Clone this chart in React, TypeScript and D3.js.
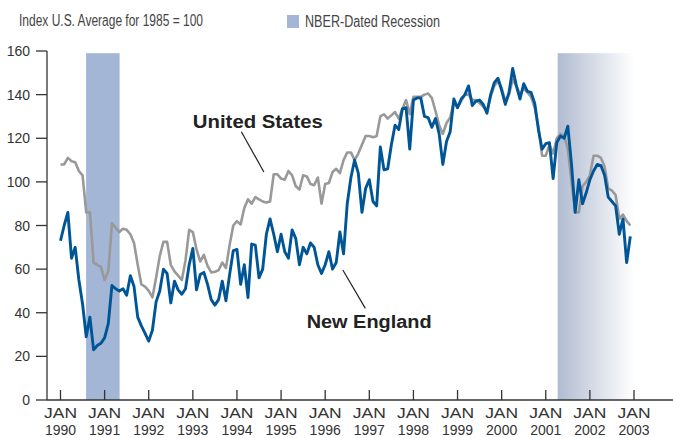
import React, { useEffect, useRef } from 'react'
import * as d3 from 'd3'

// monthly index values, Jan 1990 .. Dec 2002
const usValues = [
  108, 108, 111, 109.5, 109, 105, 103, 86, 86, 63, 62, 61,
  55, 59, 81, 79, 77, 78.5, 78, 76, 72, 62, 53, 52,
  50, 47, 56, 66, 72.5, 72.5, 62, 59, 57, 55, 64, 78,
  77, 69, 63.5, 66.5, 61.5, 58.5, 58.8, 59.5, 63, 60.5, 71, 80,
  82, 80.5, 88, 92, 90, 93, 92, 91, 90.5, 91, 103.5, 103.5,
  101.5, 101, 105, 103, 98, 96.5, 103, 102.5, 99, 98.5, 102, 90,
  99, 99.5, 104.5, 106, 104, 110, 113.5, 113.5, 110, 113, 117, 121,
  121, 120.5, 121, 130, 131, 129, 130.5, 132, 129, 133.5, 137.5, 131,
  139, 139, 139, 140, 140.5, 138.5, 132.5, 126, 122, 127, 129.5, 136.5,
  134, 137, 140, 140, 137.5, 137.5, 136, 134.5, 132.5, 139, 144, 146.5,
  143, 137, 140, 147, 144, 140, 143, 141, 139, 134, 125, 112,
  112, 117, 113, 120, 122, 121, 115, 100, 86, 86, 98, 100,
  103, 112, 112, 111, 107, 97, 96, 94, 83, 85, 82, 80,
]

const neValues = [
  73, 80, 86, 65, 70, 55, 44, 29, 38, 23, 25, 26,
  28.5, 35, 52.5, 51, 50, 51, 48, 57, 52, 38, 34, 30.5,
  27, 32, 45, 50, 60, 58, 44.5, 54.5, 50.5, 48.5, 51, 62,
  69.5, 50.5, 57.5, 58.5, 53, 46, 43.5, 46, 54.5, 45.5, 57.5, 68.5,
  69, 53, 62, 47, 71.5, 71, 56, 60, 76, 83, 76, 68,
  76, 68, 65, 78, 74, 62, 70, 67, 72, 70, 62, 58,
  62, 68, 60, 63, 77, 67, 90, 102, 110, 104, 86, 97,
  101, 91, 89, 116, 105.5, 106, 117, 126, 124, 133.5, 134, 115,
  137.5, 138.5, 138.5, 130, 129.5, 125, 129, 122, 108, 118.5, 123, 138,
  134, 138, 140, 144, 135, 137, 137.5, 135.5, 131.5, 140, 145.5, 147.5,
  142, 135.5, 141, 152, 144, 138, 145, 141.5, 141, 136, 124, 115,
  117.5, 118, 101.5, 118, 121, 120, 125.5, 108, 86, 101, 90, 95,
  101, 105, 108, 107.5, 103, 93, 91, 89, 76, 83, 63, 75,
]

const yTicks = [0, 20, 40, 60, 80, 100, 120, 140, 160]
const xTickYears = [1990, 1991, 1992, 1993, 1994, 1995, 1996, 1997, 1998, 1999, 2000, 2001, 2002, 2003]

const recessions = [
  { from: 1990.58, to: 1991.34, top: 159, fill: '#a3b6d6' },
  { from: 2001.27, to: 2003.0, top: 159, fill: 'url(#recessFade)' },
]

// series labels with leader lines (years / index units)
const labels = [
  { text: 'United States', x: 1993.0, y: 124.5, len: 130, lineFrom: [1994.1, 123], lineTo: [1994.61, 104.5] },
  { text: 'New England', x: 1995.58, y: 33, len: 125, lineFrom: [1996.4, 59.6], lineTo: [1996.91, 42] },
]

export default function App() {
  const ref = useRef(null)

  useEffect(() => {
    const svg = d3.select(ref.current)
    svg.selectAll('*').remove()

    const x = d3.scaleLinear().domain([1990, 2003]).range([60.5, 634])
    const y = d3.scaleLinear().domain([0, 160]).range([400, 51])
    const font = '"Liberation Sans", Arial, sans-serif'
    const ink = '#333'

    const grad = svg.append('defs').append('linearGradient').attr('id', 'recessFade')
    grad.append('stop').attr('offset', '0%').attr('stop-color', '#b1bcd1')
    grad.append('stop').attr('offset', '100%').attr('stop-color', '#ffffff')

    // header
    svg.append('text')
      .attr('x', 19).attr('y', 26)
      .attr('textLength', 184).attr('lengthAdjust', 'spacingAndGlyphs')
      .style('font', `16px ${font}`).style('fill', '#444')
      .text('Index U.S. Average for 1985 = 100')
    svg.append('rect')
      .attr('x', 287).attr('y', 15).attr('width', 12).attr('height', 13)
      .style('fill', '#a3b6d6')
    svg.append('text')
      .attr('x', 305).attr('y', 26.5)
      .attr('textLength', 135).attr('lengthAdjust', 'spacingAndGlyphs')
      .style('font', `16px ${font}`).style('fill', '#444')
      .text('NBER-Dated Recession')

    // recession shading
    svg.selectAll('.recess')
      .data(recessions)
      .enter()
      .append('rect')
      .attr('x', d => x(d.from))
      .attr('y', d => y(d.top))
      .attr('width', d => x(d.to) - x(d.from))
      .attr('height', d => y(0) - y(d.top))
      .style('fill', d => d.fill)

    // y axis
    svg.append('line')
      .attr('x1', 47).attr('x2', 47).attr('y1', y(160)).attr('y2', y(0))
      .style('stroke', ink).style('stroke-width', 1.3)
    const yt = svg.selectAll('.ytick').data(yTicks).enter().append('g')
    yt.append('line')
      .attr('x1', 36).attr('x2', 47).attr('y1', d => y(d)).attr('y2', d => y(d))
      .style('stroke', ink).style('stroke-width', 1.3)
    yt.append('text')
      .attr('x', 30).attr('y', d => y(d) + 5)
      .attr('text-anchor', 'end')
      .style('font', `14px ${font}`).style('fill', ink)
      .text(d => d)

    // x axis
    svg.append('line')
      .attr('x1', 47).attr('x2', 673).attr('y1', y(0)).attr('y2', y(0))
      .style('stroke', ink).style('stroke-width', 1.3)
    const xt = svg.selectAll('.xtick').data(xTickYears).enter().append('g')
    xt.append('line')
      .attr('x1', d => x(d)).attr('x2', d => x(d)).attr('y1', y(0) - 10).attr('y2', y(0))
      .style('stroke', ink).style('stroke-width', 1.3)
    xt.append('text')
      .attr('x', d => x(d)).attr('y', 418)
      .attr('text-anchor', 'middle')
      .attr('textLength', 33).attr('lengthAdjust', 'spacingAndGlyphs')
      .style('font', `14px ${font}`).style('fill', ink)
      .text('JAN')
    xt.append('text')
      .attr('x', d => x(d)).attr('y', 435)
      .attr('text-anchor', 'middle')
      .style('font', `14px ${font}`).style('fill', ink)
      .text(d => d)

    // lines
    const line = d3.line()
      .x((d, i) => x(1990 + i / 12))
      .y(d => y(d))

    svg.append('path')
      .datum(usValues)
      .attr('d', line)
      .style('fill', 'none').style('stroke', '#999').style('stroke-width', 2.6)
      .style('stroke-linejoin', 'round')
    svg.append('path')
      .datum(neValues)
      .attr('d', line)
      .style('fill', 'none').style('stroke', '#005596').style('stroke-width', 2.9)
      .style('stroke-linejoin', 'round')

    // labels
    const lg = svg.selectAll('.lbl').data(labels).enter().append('g')
    lg.append('line')
      .attr('x1', d => x(d.lineFrom[0])).attr('y1', d => y(d.lineFrom[1]))
      .attr('x2', d => x(d.lineTo[0])).attr('y2', d => y(d.lineTo[1]))
      .style('stroke', '#222').style('stroke-width', 1.2)
    lg.append('text')
      .attr('x', d => x(d.x)).attr('y', d => y(d.y))
      .attr('textLength', d => d.len).attr('lengthAdjust', 'spacingAndGlyphs')
      .style('font', `bold 18px ${font}`).style('fill', '#222')
      .text(d => d.text)
  }, [])

  return (
    <svg
      ref={ref}
      width={673}
      height={438}
      style={{ position: 'absolute', left: 0, top: 0, background: '#fff' }}
    />
  )
}
